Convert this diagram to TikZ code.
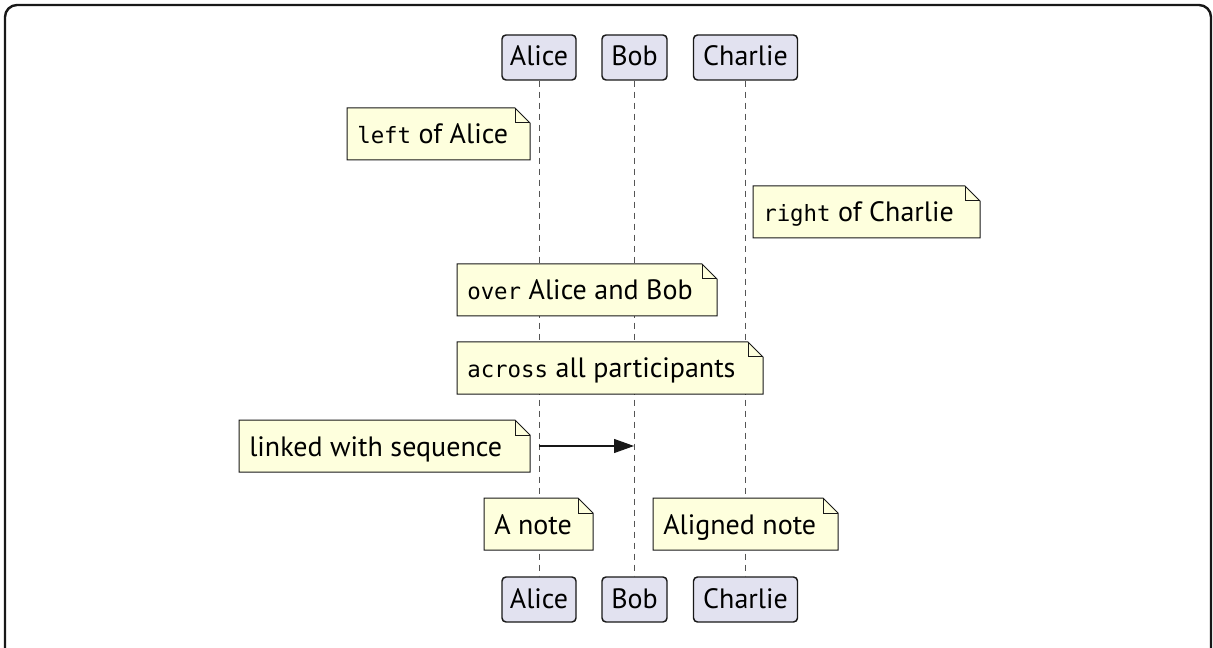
\documentclass[tikz,border=0pt]{standalone}
\usepackage{fontspec}
\setmainfont{PT Sans}
\setmonofont{DejaVu Sans Mono}[Scale=0.8]
\usetikzlibrary{arrows.meta}
\definecolor{notefill}{HTML}{FEFFDD}
\definecolor{partfill}{HTML}{E2E2F0}
\definecolor{edgecol}{HTML}{181818}
\definecolor{lifecol}{HTML}{555555}
\newcommand\notebox[6]{%
  \draw[notestyle] (#2,#3) -- (#4-15,#3) -- (#4,#3+15) -- (#4,#5) -- (#2,#5) -- cycle;
  \draw[notestyle,fill=none] (#4-15,#3) -- (#4-15,#3+15) -- (#4,#3+15);
  \node[notetext] (#1) at (#2+10,#3+36) {#6};
}
\begin{document}
\begin{tikzpicture}[x=0.75pt,y=-0.75pt,
  font=\fontsize{21pt}{25pt}\selectfont,
  part/.style={draw=edgecol,fill=partfill,line width=1.1pt,rounded corners=3pt,
    minimum height=33.75pt,inner sep=0pt,text=black},
  notestyle/.style={draw=edgecol,fill=notefill,line width=0.75pt,line join=miter},
  notetext/.style={anchor=base west,inner sep=0pt,text=black},
  life/.style={draw=lifecol,line width=0.75pt,dash pattern=on 4.5pt off 3.75pt},
  msg/.style={draw=edgecol,line width=0.9pt,-{Triangle[length=15pt,width=10.5pt]}}]
\useasboundingbox (0,0) rectangle (1213,648);
\draw[line width=1.8pt,edgecol,rounded corners=9pt] (5,650) -- (5,5) -- (1211,5) -- (1211,650);
% participants
\node[part,minimum width=55.5pt] (aT) at (539,57.5) {};
\node[part,minimum width=48.75pt] (bT) at (634.5,57.5) {};
\node[part,minimum width=78pt] (cT) at (745.5,57.5) {};
\node[part,minimum width=55.5pt] (aB) at (539,599.5) {};
\node[part,minimum width=48.75pt] (bB) at (634.5,599.5) {};
\node[part,minimum width=78pt] (cB) at (745.5,599.5) {};
\node[anchor=base,inner sep=0pt] (aTt) at (539,66) {Alice};
\node[anchor=base,inner sep=0pt] (bTt) at (634.5,66) {Bob};
\node[anchor=base,inner sep=0pt] (cTt) at (745.5,66) {Charlie};
\node[anchor=base,inner sep=0pt] (aBt) at (539,608) {Alice};
\node[anchor=base,inner sep=0pt] (bBt) at (634.5,608) {Bob};
\node[anchor=base,inner sep=0pt] (cBt) at (745.5,608) {Charlie};
% lifelines
\draw[life] (aT.south) -- (aB.north);
\draw[life] (bT.south) -- (bB.north);
\draw[life] (cT.south) -- (cB.north);
% notes
\notebox{n1}{347}{108}{530}{160}{\texttt{left} of Alice}
\notebox{n2}{753}{186}{980}{238}{\texttt{right} of Charlie}
\notebox{n3}{457}{264}{717}{316}{\texttt{over} Alice and Bob}
\notebox{n4}{457}{342}{763}{394}{\texttt{across} all participants}
\notebox{n5}{239}{420}{530}{472}{linked with sequence}
\notebox{n6}{484}{498}{593}{550}{A note}
\notebox{n7}{653}{498}{838}{550}{Aligned note}
% message
\coordinate (mA) at (539,446);
\coordinate (mB) at (634,446);
\draw[msg] (mA) -- (mB);
\end{tikzpicture}
\end{document}
